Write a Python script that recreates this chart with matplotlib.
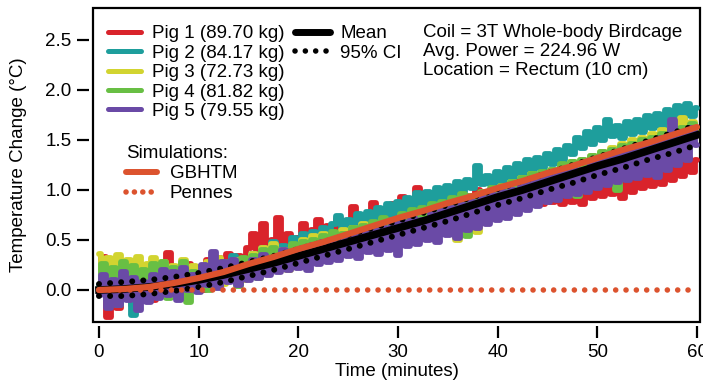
import numpy as np
import matplotlib
matplotlib.use("Agg")
from matplotlib import pyplot as plt
from matplotlib.lines import Line2D

plt.rcParams['font.family'] = ['Liberation Sans', 'DejaVu Sans']

# pig traces, one value every 0.5 min from 0 to 60 min
t = np.arange(0, 60.5, 0.5)

pig1 = [0.02, 0.33, -0.27, 0.12, -0.18, 0.22, 0.02, -0.15, 0.18, -0.08,
        0.14, -0.10, 0.24, -0.02, 0.37, 0.02, 0.20, -0.08, 0.26, 0.04,
        0.22, 0.00, 0.30, 0.08, 0.32, 0.12, 0.36, 0.14, 0.34, 0.20,
        0.42, 0.56, 0.28, 0.66, 0.36, 0.50, 0.72, 0.40, 0.56, 0.42,
        0.52, 0.66, 0.44, 0.60, 0.70, 0.48, 0.64, 0.52, 0.71, 0.56,
        0.66, 0.83, 0.58, 0.74, 0.64, 0.87, 0.62, 0.80, 0.70, 0.86,
        0.74, 0.93, 0.72, 0.86, 1.02, 0.76, 0.90, 0.78, 0.94, 0.80,
        0.92, 0.74, 0.96, 0.78, 0.94, 0.80, 1.00, 0.82, 0.96, 0.84,
        0.98, 0.82, 1.04, 0.86, 1.00, 0.84, 1.06, 0.88, 1.02, 0.86,
        1.08, 0.88, 1.00, 0.86, 1.08, 0.88, 1.04, 0.86, 1.10, 0.92,
        1.12, 0.94, 1.14, 0.96, 1.08, 0.92, 1.18, 0.98, 1.14, 1.02,
        1.20, 1.04, 1.24, 1.06, 1.26, 1.10, 1.28, 1.14, 1.32, 1.18,
        1.30]
pig2 = [0.05, 0.18, -0.10, 0.12, -0.15, 0.08, 0.15, -0.25, 0.10, -0.08,
        0.14, -0.04, 0.18, 0.00, 0.15, -0.02, 0.20, 0.04, 0.18, 0.02,
        0.16, 0.24, 0.06, 0.30, 0.12, 0.28, 0.14, 0.34, 0.18, 0.30,
        0.22, 0.36, 0.26, 0.42, 0.30, 0.48, 0.32, 0.44, 0.36, 0.52,
        0.40, 0.56, 0.42, 0.58, 0.46, 0.62, 0.50, 0.66, 0.74, 0.58,
        0.70, 0.60, 0.76, 0.64, 0.78, 0.68, 0.82, 0.70, 0.86, 0.74,
        0.88, 0.76, 0.92, 0.80, 0.97, 0.84, 0.98, 0.88, 1.02, 0.92,
        1.04, 0.94, 1.08, 0.98, 1.10, 1.02, 1.24, 1.06, 1.14, 1.05,
        1.18, 1.08, 1.22, 1.12, 1.26, 1.16, 1.30, 1.20, 1.32, 1.22,
        1.36, 1.26, 1.40, 1.30, 1.44, 1.36, 1.52, 1.42, 1.58, 1.46,
        1.62, 1.50, 1.70, 1.54, 1.64, 1.52, 1.68, 1.56, 1.70, 1.58,
        1.74, 1.62, 1.76, 1.64, 1.80, 1.68, 1.84, 1.70, 1.86, 1.74,
        1.82]
pig3 = [0.36, 0.08, 0.32, 0.02, 0.35, 0.10, 0.30, 0.05, 0.33, 0.12,
        0.26, 0.32, 0.06, 0.28, 0.02, 0.24, 0.10, 0.30, 0.06, 0.24,
        0.20, 0.02, 0.28, 0.08, 0.32, 0.06, 0.26, 0.12, 0.30, 0.10,
        0.28, 0.36, 0.16, 0.42, 0.22, 0.46, 0.26, 0.40, 0.20, 0.44,
        0.30, 0.50, 0.26, 0.54, 0.32, 0.56, 0.34, 0.52, 0.36, 0.60,
        0.42, 0.62, 0.40, 0.66, 0.44, 0.64, 0.48, 0.70, 0.46, 0.68,
        0.54, 0.74, 0.50, 0.76, 0.56, 0.80, 0.60, 0.84, 0.62, 0.82,
        0.68, 0.88, 0.50, 0.90, 0.70, 0.94, 0.58, 0.96, 0.76, 1.00,
        0.82, 1.04, 0.80, 1.08, 0.86, 1.12, 0.88, 1.16, 0.92, 1.14,
        0.98, 1.20, 0.96, 1.24, 1.00, 1.28, 1.04, 1.30, 1.08, 1.34,
        1.12, 1.38, 1.16, 1.42, 1.20, 1.46, 1.22, 1.50, 1.26, 1.52,
        1.30, 1.56, 1.34, 1.60, 1.38, 1.64, 1.42, 1.72, 1.46, 1.68,
        1.58]
pig4 = [0.02, 0.26, -0.04, 0.22, 0.04, 0.28, -0.02, 0.24, 0.06, 0.20,
        0.00, 0.26, 0.08, 0.28, -0.08, 0.22, 0.04, 0.28, -0.12, 0.18,
        0.06, 0.24, 0.00, 0.26, 0.06, 0.28, 0.10, 0.24, 0.04, 0.32,
        0.16, 0.34, 0.12, 0.40, 0.18, 0.42, 0.22, 0.38, 0.24, 0.46,
        0.26, 0.48, 0.30, 0.50, 0.32, 0.54, 0.36, 0.58, 0.38, 0.56,
        0.40, 0.62, 0.42, 0.64, 0.46, 0.68, 0.48, 0.72, 0.50, 0.70,
        0.54, 0.76, 0.52, 0.80, 0.58, 0.82, 0.60, 0.86, 0.64, 0.88,
        0.66, 0.92, 0.62, 0.96, 0.54, 0.94, 0.72, 0.98, 0.76, 1.02,
        0.80, 1.04, 0.82, 1.08, 0.86, 1.12, 0.90, 1.16, 0.92, 1.18,
        0.96, 1.20, 0.98, 1.26, 1.02, 1.28, 0.94, 1.30, 1.06, 1.34,
        1.10, 1.38, 1.14, 1.40, 1.00, 1.44, 1.20, 1.46, 1.24, 1.50,
        1.28, 1.52, 1.30, 1.56, 1.34, 1.60, 1.36, 1.62, 1.42, 1.66,
        1.55]
pig5 = [-0.05, 0.15, -0.18, 0.10, -0.15, 0.18, -0.10, 0.12, -0.20, 0.08,
        -0.12, 0.15, -0.08, 0.20, -0.05, 0.18, -0.10, 0.22, 0.00, 0.15,
        -0.02, 0.25, 0.05, 0.38, 0.02, 0.28, 0.08, 0.30, 0.05, 0.25,
        0.10, 0.30, 0.12, 0.35, 0.15, 0.32, 0.18, 0.40, 0.20, 0.36,
        0.22, 0.42, 0.20, 0.45, 0.26, 0.48, 0.28, 0.46, 0.30, 0.52,
        0.34, 0.55, 0.32, 0.58, 0.38, 0.60, 0.36, 0.62, 0.40, 0.66,
        0.35, 0.68, 0.44, 0.72, 0.46, 0.70, 0.50, 0.76, 0.48, 0.80,
        0.55, 0.82, 0.52, 0.85, 0.60, 0.88, 0.62, 0.92, 0.66, 0.95,
        0.70, 0.98, 0.72, 1.00, 0.76, 1.05, 0.80, 1.08, 0.84, 1.12,
        0.88, 1.15, 0.90, 1.18, 0.94, 1.22, 0.96, 1.20, 0.98, 1.28,
        1.02, 1.30, 1.05, 1.35, 1.08, 1.38, 1.10, 1.40, 1.12, 1.45,
        1.15, 1.48, 1.13, 1.52, 1.20, 1.70, 1.25, 1.58, 1.30, 1.62,
        1.45]

pig_labels = ['Pig 1 (89.70 kg)', 'Pig 2 (84.17 kg)', 'Pig 3 (72.73 kg)',
              'Pig 4 (81.82 kg)', 'Pig 5 (79.55 kg)']
pig_colors = ['#d9232b', '#1e9e9c', '#d2d430', '#68bf44', '#6a4aa6']

# mean, CI and simulations, every 2.5 min
t_s = np.arange(0, 62.5, 2.5)
mean = [0.00, 0.01, 0.03, 0.06, 0.10, 0.15, 0.21, 0.27, 0.34, 0.41, 0.48, 0.55, 0.62,
        0.69, 0.77, 0.85, 0.93, 1.00, 1.08, 1.16, 1.24, 1.31, 1.39, 1.47, 1.55]
ci_hi = [0.06, 0.08, 0.10, 0.13, 0.17, 0.22, 0.28, 0.34, 0.41, 0.48, 0.55, 0.62, 0.69,
         0.77, 0.85, 0.93, 1.01, 1.09, 1.17, 1.25, 1.33, 1.41, 1.49, 1.57, 1.65]
ci_lo = [-0.06, -0.06, -0.04, -0.01, 0.03, 0.08, 0.14, 0.20, 0.27, 0.34, 0.41, 0.48, 0.55,
         0.62, 0.69, 0.77, 0.85, 0.92, 1.00, 1.07, 1.15, 1.22, 1.30, 1.37, 1.45]
gbhtm = [0.00, 0.01, 0.03, 0.07, 0.12, 0.18, 0.26, 0.33, 0.41, 0.48, 0.56, 0.64, 0.72,
         0.79, 0.87, 0.94, 1.02, 1.09, 1.17, 1.24, 1.32, 1.40, 1.47, 1.55, 1.63]
pennes = [0.0, 0.0, 0.0, 0.0, 0.0, 0.0, 0.0, 0.0, 0.0, 0.0, 0.0, 0.0, 0.0,
          0.0, 0.0, 0.0, 0.0, 0.0, 0.0, 0.0, 0.0, 0.0, 0.0, 0.0, 0.0]

orange = '#dc532e'
fs = 13.5

fig = plt.figure(figsize=(7.03, 3.83), dpi=100)
ax = fig.add_axes([93/703, 61/383, 607/703, 314/383])

# step drawing gives the narrow vertical spikes of the raw probe traces
for y, c in zip([pig1, pig2, pig3, pig4, pig5], pig_colors):
    ax.plot(t, y, color=c, lw=4.2, drawstyle='steps-mid',
            solid_joinstyle='round', solid_capstyle='round')

dots = (0, (0.01, 1.85))
ax.plot(t_s, mean, color='black', lw=5.5)
ax.plot(t_s, ci_hi, color='black', lw=4.3, ls=dots, dash_capstyle='round')
ax.plot(t_s, ci_lo, color='black', lw=4.3, ls=dots, dash_capstyle='round')
ax.plot(t_s, gbhtm, color=orange, lw=4.5, solid_capstyle='round')
ax.plot(t_s, pennes, color=orange, lw=4, ls=(0, (0.01, 1.85)), dash_capstyle='round')

ax.set_xlim(-0.6, 60.3)
ax.set_ylim(-0.32, 2.82)
ax.set_xticks([0, 10, 20, 30, 40, 50, 60])
ax.set_yticks([0.0, 0.5, 1.0, 1.5, 2.0, 2.5])
ax.set_yticklabels(['0.0', '0.5', '1.0', '1.5', '2.0', '2.5'])

# Igor-like look: frame + ticks slightly detached from it
for s in ['left', 'bottom']:
    ax.spines[s].set_position(('outward', 3))
    ax.spines[s].set_visible(False)
for s in ['top', 'right']:
    ax.spines[s].set_visible(False)
ax.patch.set_edgecolor('black')
ax.patch.set_linewidth(1.6)
ax.tick_params(direction='out', length=8.5, width=1.6, labelsize=fs, pad=4)

ax.set_ylabel('Temperature Change (°C)', fontsize=fs, labelpad=13)
ax.set_xlabel('Time (minutes)', fontsize=fs, labelpad=2)

# legends
pig_handles = [Line2D([], [], color=c, lw=3.6, solid_capstyle='round') for c in pig_colors]
leg1 = ax.legend(pig_handles, pig_labels, loc='upper left', bbox_to_anchor=(0.024, 0.945),
                 frameon=False, fontsize=fs, handlelength=1.8, handletextpad=0.55,
                 labelspacing=0.12, borderpad=0, borderaxespad=0)
ax.add_artist(leg1)

stat_handles = [Line2D([], [], color='black', lw=5, solid_capstyle='round'),
                Line2D([], [], color='black', lw=4, ls=dots, dash_capstyle='round')]
leg2 = ax.legend(stat_handles, ['Mean', '95% CI'], loc='upper left',
                 bbox_to_anchor=(0.333, 0.945), frameon=False, fontsize=fs,
                 handlelength=1.85, handletextpad=0.55, labelspacing=0.12,
                 borderpad=0, borderaxespad=0)
ax.add_artist(leg2)

sim_handles = [Line2D([], [], color=orange, lw=4.3, solid_capstyle='round'),
               Line2D([], [], color=orange, lw=4, ls=(0, (0.01, 1.5)), dash_capstyle='round')]
leg3 = ax.legend(sim_handles, ['GBHTM', 'Pennes'], loc='upper left',
                 bbox_to_anchor=(0.054, 0.563), frameon=False, fontsize=fs,
                 title='Simulations:', title_fontsize=fs, alignment='left',
                 handlelength=1.65, handletextpad=0.7, labelspacing=0.15,
                 borderpad=0, borderaxespad=0)

ax.text(0.544, 0.95, 'Coil = 3T Whole-body Birdcage\nAvg. Power = 224.96 W\nLocation = Rectum (10 cm)',
        transform=ax.transAxes, fontsize=fs, va='top', ha='left', linespacing=1.16)

fig.savefig('out.png', dpi=100)
